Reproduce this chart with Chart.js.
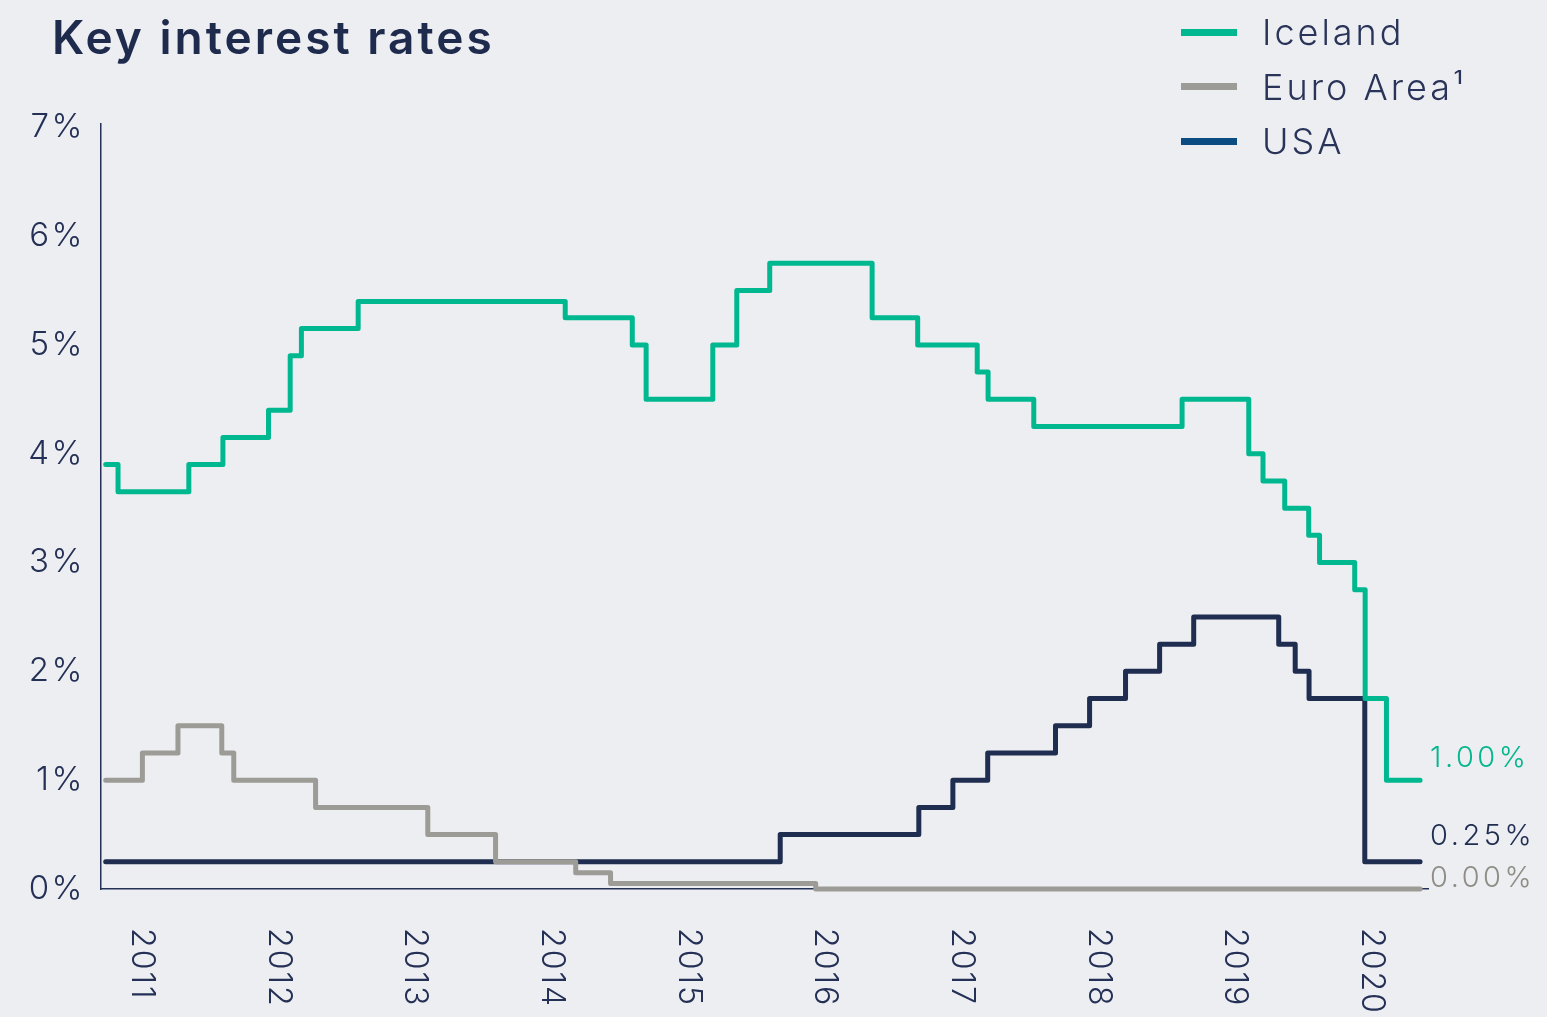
<!DOCTYPE html>
<html lang="en">
<head>
<meta charset="UTF-8">
<title>Key interest rates</title>
<script src="https://cdn.jsdelivr.net/npm/chart.js@4.4.1/dist/chart.umd.min.js"></script>
<style>
  html, body { margin: 0; padding: 0; background: #edeef2; }
  #wrap { position: relative; width: 1547px; height: 1017px; overflow: hidden; }
  #rates { position: absolute; left: 0; top: 0; }
  #title {
    position: absolute; left: 52px; top: 14px; margin: 0;
    font: 600 46px Inter, sans-serif; line-height: 46px; letter-spacing: 3px;
    color: #1f2b4d;
  }
  #legend { position: absolute; left: 1181px; top: 5px; }
  #legend .item {
    display: flex; align-items: center; height: 54.5px;
    font: 300 36px Inter, sans-serif; letter-spacing: 3px; color: #2a3459;
  }
  #legend .swatch { display: inline-block; width: 56px; height: 7px; margin-right: 25px; }
</style>
</head>
<body>
<div id="wrap">
  <canvas id="rates" width="1547" height="1017"></canvas>
  <h1 id="title">Key interest rates</h1>
  <div id="legend"></div>
</div>
<script>
// series names as in the legend
const seriesNames = ['Iceland', 'Euro Area\u00b9', 'USA'];

// all series start and end on the same dates
const startDate = '2011-01-04';
const endDate = '2020-08-16';

// Iceland, key rate (date of change -> new rate, %)
const icelandDates = ['2011-02-06', '2011-08-14', '2011-11-13', '2012-03-14', '2012-05-11', '2012-06-10',
  '2012-11-09', '2014-05-16', '2014-11-11', '2014-12-18', '2015-06-14', '2015-08-17', '2015-11-13',
  '2016-08-13', '2016-12-13', '2017-05-21', '2017-06-19', '2017-10-19', '2018-11-19', '2019-05-16',
  '2019-06-23', '2019-08-20', '2019-10-23', '2019-11-21', '2020-02-23', '2020-03-22', '2020-05-18'];
const icelandStart = 3.9;
const icelandRates = [3.65, 3.9, 4.15, 4.4, 4.9, 5.15,
  5.4, 5.25, 5.0, 4.5, 5.0, 5.5, 5.75,
  5.25, 5.0, 4.75, 4.5, 4.25, 4.5, 4.0,
  3.75, 3.5, 3.25, 3.0, 2.75, 1.75, 1.0];

// Euro Area, main refinancing rate
const euroDates = ['2011-04-12', '2011-07-16', '2011-11-10', '2011-12-12', '2012-07-18', '2013-05-14',
  '2013-11-11', '2014-06-13', '2014-09-14', '2016-03-15'];
const euroStart = 1.0;
const euroRates = [1.25, 1.5, 1.25, 1.0, 0.75, 0.5, 0.25, 0.15, 0.05, 0.0];

// USA, fed funds target (upper bound)
const usaDates = ['2015-12-11', '2016-12-16', '2017-03-17', '2017-06-18', '2017-12-16', '2018-03-17',
  '2018-06-21', '2018-09-20', '2018-12-20', '2019-08-04', '2019-09-17', '2019-10-24', '2020-03-21'];
const usaStart = 0.25;
const usaRates = [0.5, 0.75, 1.0, 1.25, 1.5, 1.75, 2.0, 2.25, 2.5, 2.25, 2.0, 1.75, 0.25];

// x axis year labels, y axis ticks
const yearTicks = [2011, 2012, 2013, 2014, 2015, 2016, 2017, 2018, 2019, 2020];
const rateTicks = [0, 1, 2, 3, 4, 5, 6, 7];

const green = '#00b890';
const grey = '#9d9b95';
const navy = '#1f2d50';
const ink = '#243055';
const lineColors = [green, grey, navy];
const legendColors = [green, grey, '#0b4d82'];
const endLabelColors = ['#06b68e', '#8f8d86', '#1f2d50'];
const endLabelDy = [-22, -11, -26];

function toYear(s) {
  const [y, m, d] = s.split('-').map(Number);
  const a = Date.UTC(y, 0, 1), b = Date.UTC(y + 1, 0, 1);
  return y + (Date.UTC(y, m - 1, d) - a) / (b - a);
}

// change points -> stepped series
function steps(first, dates, rates) {
  const pts = [{x: toYear(startDate), y: first}];
  dates.forEach((d, i) => pts.push({x: toYear(d), y: rates[i]}));
  pts.push({x: toYear(endDate), y: rates[rates.length - 1]});
  return pts;
}

// legend
const legendEl = document.getElementById('legend');
seriesNames.forEach((name, i) => {
  const item = document.createElement('div');
  item.className = 'item';
  const sw = document.createElement('span');
  sw.className = 'swatch';
  sw.style.background = legendColors[i];
  item.appendChild(sw);
  item.appendChild(document.createTextNode(name));
  legendEl.appendChild(item);
});

const spacing = {
  id: 'spacing',
  beforeDraw(chart) { chart.ctx.letterSpacing = '2.5px'; }
};

// rotated year labels under the axis
const yearLabels = {
  id: 'yearLabels',
  afterDraw(chart) {
    const {ctx, chartArea} = chart;
    const x = chart.scales.x;
    ctx.save();
    ctx.font = '300 32px Inter';
    ctx.letterSpacing = '2px';
    ctx.fillStyle = ink;
    ctx.textAlign = 'left';
    ctx.textBaseline = 'middle';
    yearTicks.forEach(yr => {
      ctx.save();
      ctx.translate(x.getPixelForValue(yr + 0.27), chartArea.bottom + 39);
      ctx.rotate(Math.PI / 2);
      ctx.fillText(String(yr), 0, 0);
      ctx.restore();
    });
    ctx.restore();
  }
};

// last value at the end of each line
const endLabels = {
  id: 'endLabels',
  afterDatasetsDraw(chart) {
    const {ctx} = chart;
    ctx.save();
    ctx.font = '300 29px Inter';
    ctx.letterSpacing = '3.5px';
    ctx.textAlign = 'left';
    ctx.textBaseline = 'middle';
    chart.data.datasets.forEach((ds, i) => {
      const last = ds.data[ds.data.length - 1];
      const px = chart.scales.x.getPixelForValue(last.x);
      const py = chart.scales.y.getPixelForValue(last.y);
      ctx.fillStyle = endLabelColors[i];
      ctx.fillText(last.y.toFixed(2) + '%', px + 10, py + endLabelDy[i]);
    });
    ctx.restore();
  }
};

new Chart(document.getElementById('rates'), {
  type: 'line',
  data: {
    datasets: [
      {label: seriesNames[0], data: steps(icelandStart, icelandDates, icelandRates)},
      {label: seriesNames[1], data: steps(euroStart, euroDates, euroRates)},
      {label: seriesNames[2], data: steps(usaStart, usaDates, usaRates)}
    ].map((ds, i) => Object.assign(ds, {borderColor: lineColors[i], backgroundColor: lineColors[i]}))
  },
  options: {
    responsive: false,
    animation: false,
    layout: {padding: {top: 124, right: 119, left: 0, bottom: 0}},
    elements: {
      point: {radius: 0},
      line: {borderWidth: 5, stepped: true, borderCapStyle: 'round', borderJoinStyle: 'round', fill: false}
    },
    datasets: {line: {clip: false}},
    plugins: {legend: {display: false}, tooltip: {enabled: false}, title: {display: false}},
    scales: {
      x: {
        type: 'linear', min: 2010.974, max: 2020.681,
        grid: {display: false, drawTicks: false},
        border: {color: ink, width: 1.5},
        ticks: {display: false},
        afterFit(s) { s.height = 128; }
      },
      y: {
        min: 0, max: 7.03,
        grid: {display: false, drawTicks: false},
        border: {color: ink, width: 1.5},
        afterBuildTicks(s) { s.ticks = rateTicks.map(v => ({value: v})); },
        ticks: {
          padding: 16, color: ink,
          font: {family: 'Inter', size: 33, weight: 300},
          callback: v => v + '%'
        },
        afterFit(s) { s.width = 101; }
      }
    }
  },
  plugins: [spacing, yearLabels, endLabels]
});
</script>
</body>
</html>
